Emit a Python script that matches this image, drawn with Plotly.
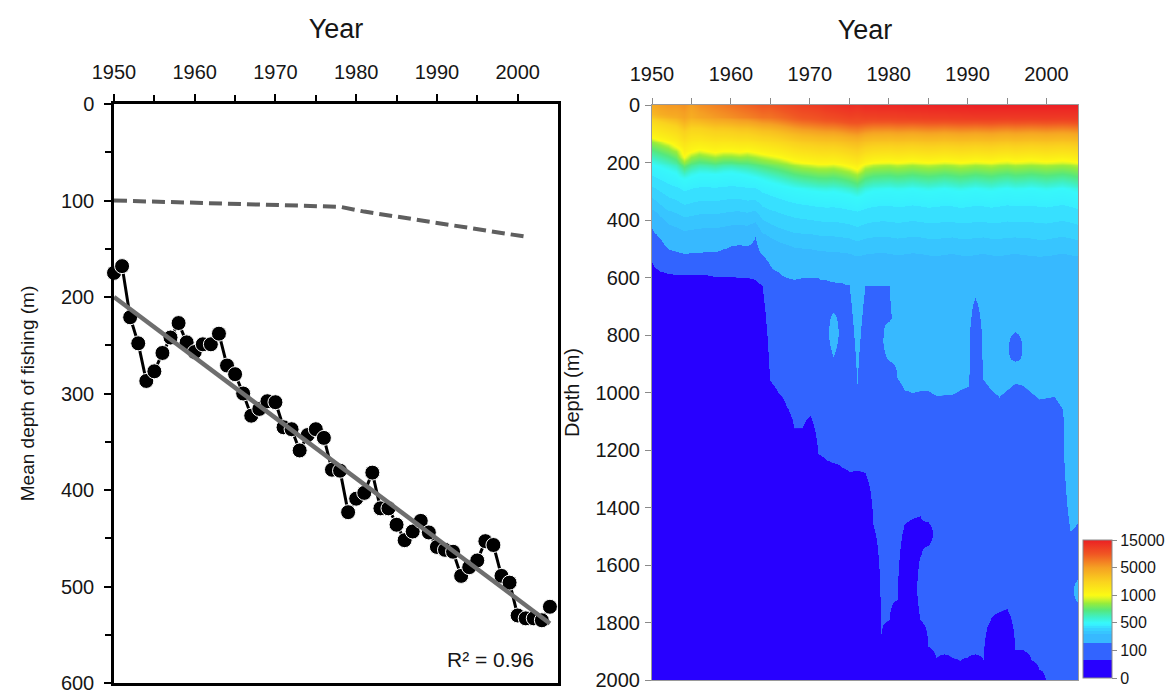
import numpy as np
import plotly.graph_objects as go

# ---------------- Left panel data ----------------
years = list(range(1950, 2005))
mean_depth = [175, 168, 221, 248, 287, 277, 258, 242, 227, 247,
              257, 249, 249, 238, 271, 280, 300, 323, 316, 308,
              309, 335, 337, 359, 343, 337, 346, 379, 380, 423,
              409, 403, 382, 419, 419, 436, 452, 443, 432, 444,
              459, 462, 464, 489, 480, 473, 453, 457, 489, 496,
              530, 533, 533, 535, 521]

dash_years = [1950, 1960, 1970, 1978, 1981, 1984, 1988, 1992, 1997, 2001]
dash_depth = [100, 102.5, 104.8, 106.5, 111.5, 115.5, 120, 126, 133, 137.5]

r2_text = "R² = 0.96"

# ---------------- Right panel data ----------------
grid_years = list(range(1950, 2005))
# colour-level index at the surface (0=0, 1=100, 2=500, 3=1000, 4=5000, 5=15000)
surf_level = [3.9, 4.0, 4.05, 4.05, 4.1, 4.0, 4.1, 4.15, 4.2, 4.25,
              4.3, 4.35, 4.4, 4.45, 4.5, 4.5, 4.55, 4.6, 4.65, 4.7,
              4.72, 4.75, 4.8, 4.82, 4.85, 4.88, 4.85, 4.9, 4.9, 4.92,
              4.92, 4.93, 4.94, 4.95, 4.95, 4.96, 4.97, 4.97, 4.98, 4.98,
              4.99, 5.0, 5.0, 5.0, 5.0, 5.0, 5.0, 5.0, 5.0, 5.0,
              5.0, 5.0, 5.0, 5.0, 5.0]
# depth (m) of the bottom of the yellow band (level 1000)
yellow_depth = [115, 125, 135, 150, 185, 168, 160, 165, 170, 165,
                165, 168, 165, 170, 175, 180, 185, 192, 200, 205,
                208, 212, 212, 210, 215, 222, 232, 212, 205, 203,
                202, 205, 203, 200, 203, 205, 203, 200, 202, 205,
                203, 200, 202, 204, 200, 198, 202, 200, 198, 200,
                202, 200, 198, 200, 205]
# depth (m) of the cyan band (level 500)
cyan_depth = [205, 215, 225, 235, 255, 245, 237, 237, 240, 235,
              233, 237, 243, 250, 257, 265, 273, 281, 288, 293,
              297, 301, 303, 301, 305, 311, 320, 305, 297, 295,
              293, 297, 295, 291, 295, 299, 295, 291, 295, 300,
              295, 291, 295, 299, 293, 289, 295, 293, 289, 293,
              297, 293, 289, 295, 305]
# depth (m) where the light-blue plateau starts
light_depth = [400, 430, 460, 470, 480, 478, 475, 472, 472, 468,
               462, 458, 462, 445, 490, 510, 525, 535, 545, 548,
               550, 555, 558, 560, 562, 565, 575, 570, 568, 565,
               570, 575, 572, 568, 570, 575, 580, 575, 570, 575,
               580, 575, 570, 575, 580, 575, 570, 575, 580, 585,
               580, 575, 570, 575, 580]
# depth (m) where light blue gives way to medium blue
light_bottom = [428, 465, 500, 508, 515, 513, 511, 509, 509, 500,
                490, 483, 490, 460, 520, 555, 578, 595, 603, 598,
                596, 600, 610, 612, 618, 623, 970, 628, 630, 626,
                630, 950, 990, 1000, 995, 992, 1012, 1010, 1007, 990,
                978, 965, 955, 990, 1018, 990, 968, 975, 1000, 1024,
                1020, 1015, 1055, 1480, 1450]
# depth (m) where medium blue gives way to dark blue
medium_bottom = [550, 575, 582, 585, 587, 588, 589, 590, 592, 593,
                 594, 595, 597, 605, 625, 960, 1000, 1045, 1125, 1125,
                 1080, 1215, 1235, 1245, 1260, 1278, 1272, 1280, 1460, 1840,
                 1790, 1720, 1460, 1440, 1430, 1885, 1925, 1910, 1925, 1933,
                 1920, 1910, 1930, 1785, 1765, 1755, 1898, 1898, 1930, 1962,
                 2010, 2100, 2100, 2100, 2100]
# isolated patches (year, top depth, bottom depth, band)
isl_year = [1973, 1980, 1991, 1984, 1985, 1996, 2003, 2004]
isl_top = [720, 750, 670, 1570, 1450, 790, 1000, 1650]
isl_bot = [875, 890, 985, 1790, 1530, 890, 1480, 1730]
isl_band = ["L", "L", "M", "M", "D", "M", "L", "L"]

cbar_levels = [0, 1, 2, 3, 4, 5]
cbar_labels = ["0", "100", "500", "1000", "5000", "15000"]

# ---------------- build the depth x year grid ----------------
# band thresholds in level-index units: D < 0.65 < M < 1.25 < L
island_peak = {"L": 1.58, "M": 0.75, "D": 0.2}
island_edge = {"L": 1.25, "M": 1.25, "D": 0.65}
depths = np.arange(0, 2001, 10)
Z = np.zeros((len(depths), len(grid_years)))
for j, yr in enumerate(grid_years):
    zs = surf_level[j]
    dy = yellow_depth[j]
    dc = cyan_depth[j]
    dl = light_depth[j]
    lb = light_bottom[j]
    mb = medium_bottom[j]
    ad = [0, 0.25 * dy, 0.5 * dy, 0.95 * dy, dy + 8, dc, dl, lb, mb, mb + 200]
    az = [zs, 3 + 0.85 * (zs - 3), 3 + 0.45 * (zs - 3), 3.05, 2.75, 2.0, 1.5, 1.25, 0.65, 0.2]
    col = np.interp(depths, ad, az)
    for k in range(len(isl_year)):
        if isl_year[k] != yr:
            continue
        c = 0.5 * (isl_top[k] + isl_bot[k])
        h = 0.5 * (isl_bot[k] - isl_top[k])
        band = isl_band[k]
        base_c = col[np.argmin(np.abs(depths - c))]
        if band == "D":
            edge, peak = 0.65, island_peak["D"]
        elif band == "M" and base_c < 0.65:
            edge, peak = 0.65, 1.0
        else:
            edge, peak = island_edge[band], island_peak[band]
        tent = edge + (peak - edge) * (1 - np.abs(depths - c) / h)
        inside = np.abs(depths - c) <= h * 1.6
        if peak > edge:
            col = np.where(inside, np.maximum(col, tent), col)
        else:
            col = np.where(inside, np.minimum(col, tent), col)
    Z[:, j] = col

e = 1e-4
def s(v):
    return v / 5.0
colorscale = [
    [0.0, "rgb(40,0,255)"], [s(0.65), "rgb(40,0,255)"],
    [s(0.65) + e, "rgb(50,100,255)"], [s(1.25), "rgb(50,100,255)"],
    [s(1.25) + e, "rgb(55,185,255)"], [s(1.6), "rgb(55,185,255)"],
    [s(1.6) + e, "rgb(55,197,255)"], [s(1.7), "rgb(55,197,255)"],
    [s(1.7) + e, "rgb(55,210,255)"], [s(1.8), "rgb(55,210,255)"],
    [s(1.8) + e, "rgb(55,224,255)"], [s(1.9), "rgb(55,224,255)"],
    [s(1.9) + e, "rgb(55,238,255)"], [s(2.0), "rgb(55,248,250)"],
    [s(2.2), "rgb(62,240,200)"], [s(2.45), "rgb(85,232,125)"],
    [s(2.7), "rgb(150,236,60)"], [s(2.9), "rgb(225,246,35)"],
    [s(3.0), "rgb(252,250,20)"],
    [s(3.5), "rgb(250,210,30)"], [s(4.0), "rgb(245,160,35)"],
    [s(4.5), "rgb(240,85,35)"], [1.0, "rgb(236,32,36)"],
]

# ---------------- figure ----------------
FONT = "Arial, 'Liberation Sans', sans-serif"
TXT = "#161616"
fig = go.Figure()

fig.add_trace(go.Scatter(
    x=dash_years, y=dash_depth, mode="lines", xaxis="x", yaxis="y",
    line=dict(color="#5f5f5f", width=4, dash="13px,6px"), showlegend=False))

fig.add_trace(go.Scatter(
    x=years, y=mean_depth, mode="lines+markers", xaxis="x", yaxis="y",
    line=dict(color="black", width=3),
    marker=dict(size=15, color="black", line=dict(color="white", width=1)),
    cliponaxis=False, showlegend=False))

coef = np.polyfit(years, mean_depth, 1)
trend_x = [years[0], years[-1]]
trend_y = [float(np.polyval(coef, v)) for v in trend_x]
fig.add_trace(go.Scatter(
    x=trend_x, y=trend_y, mode="lines", xaxis="x", yaxis="y",
    line=dict(color="#6e6e6e", width=4.5), showlegend=False))

fig.add_trace(go.Heatmap(
    x=grid_years, y=depths, z=Z, xaxis="x2", yaxis="y2",
    zmin=0, zmax=5, zsmooth="best", colorscale=colorscale,
    colorbar=dict(
        tickvals=cbar_levels, ticktext=cbar_labels,
        x=1083 / 1170, xanchor="left", y=1 - 678 / 693, yanchor="bottom",
        len=138 / 693, lenmode="fraction", thickness=29, thicknessmode="pixels",
        outlinewidth=1, outlinecolor="#8a8a8a", ticks="outside", ticklen=5,
        tickcolor="#8a8a8a", tickfont=dict(size=16, color=TXT, family=FONT),
        xpad=0, ypad=0),
    showlegend=False))

fig.add_annotation(x=1996.6, y=576, xref="x", yref="y", text=r2_text,
                   showarrow=False, font=dict(size=21, color=TXT, family=FONT))

left_x_dom = [114 / 1170, 558 / 1170]
left_y_dom = [1 - 683 / 693, 1 - 104 / 693]
right_x_dom = [652 / 1170, 1078 / 1170]
right_y_dom = [1 - 680 / 693, 1 - 105 / 693]

TICKF = dict(size=20, family=FONT, color=TXT)
fig.update_layout(
    width=1170, height=693, margin=dict(l=0, r=0, t=0, b=0),
    paper_bgcolor="white", plot_bgcolor="white",
    font=dict(family=FONT, color=TXT),
    xaxis=dict(
        domain=left_x_dom, anchor="y", side="top", range=[1950, 2005],
        tickvals=[1950, 1960, 1970, 1980, 1990, 2000],
        ticks="outside", ticklen=7, tickwidth=2, tickcolor="black",
        minor=dict(tickvals=[1955, 1965, 1975, 1985, 1995], ticks="outside",
                   ticklen=6, tickwidth=2, tickcolor="black"),
        showline=True, linewidth=2.5, linecolor="black", mirror=True,
        showgrid=False, zeroline=False, ticklabelstandoff=7, automargin=False,
        ticklabeloverflow="allow", tickfont=TICKF,
        title=dict(text="Year", font=dict(size=27, family=FONT, color=TXT), standoff=15)),
    yaxis=dict(
        domain=left_y_dom, anchor="x", range=[600, 0],
        tickvals=[0, 100, 200, 300, 400, 500, 600],
        ticks="outside", ticklen=7, tickwidth=2, tickcolor="black",
        minor=dict(tickvals=[50, 150, 250, 350, 450, 550], ticks="outside",
                   ticklen=6, tickwidth=2, tickcolor="black"),
        showline=True, linewidth=2.5, linecolor="black", mirror=True,
        showgrid=False, zeroline=False, ticklabelstandoff=6, automargin=False,
        ticklabeloverflow="allow", tickfont=TICKF,
        title=dict(text="Mean depth of fishing (m)", font=dict(size=19, family=FONT, color=TXT),
                   standoff=22)),
    xaxis2=dict(
        domain=right_x_dom, anchor="y2", side="top", range=[1950, 2004],
        tickvals=[1950, 1960, 1970, 1980, 1990, 2000],
        ticks="outside", ticklen=6, tickwidth=1, tickcolor="#8a8a8a",
        minor=dict(tickvals=[1955, 1965, 1975, 1985, 1995], ticks="outside",
                   ticklen=6, tickwidth=1, tickcolor="#8a8a8a"),
        showline=True, linewidth=1, linecolor="#9a9a9a", mirror=True,
        showgrid=False, zeroline=False, ticklabelstandoff=9, automargin=False,
        ticklabeloverflow="allow", tickfont=TICKF,
        title=dict(text="Year", font=dict(size=27, family=FONT, color=TXT), standoff=15)),
    yaxis2=dict(
        domain=right_y_dom, anchor="x2", range=[2000, 0],
        tickvals=list(range(0, 2001, 200)),
        ticks="outside", ticklen=6, tickwidth=1, tickcolor="#8a8a8a",
        showline=True, linewidth=1, linecolor="#9a9a9a", mirror=True,
        showgrid=False, zeroline=False, ticklabelstandoff=1, automargin=False,
        ticklabeloverflow="allow", tickfont=TICKF,
        title=dict(text="Depth (m)", font=dict(size=20, family=FONT, color=TXT),
                   standoff=10)),
)

fig.write_html("out.html", config={"displayModeBar": False},
               post_script="document.body.style.margin='0px';")
